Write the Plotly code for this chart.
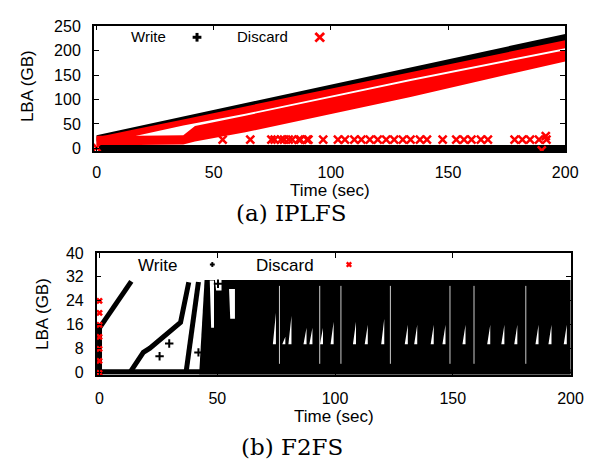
import plotly.graph_objects as go

# figure sits inside the page's default 8px body margin
W, H = 578, 454
OFF = 8

# ---------------- (a) IPLFS ----------------
a_x_ticks = [0, 50, 100, 150, 200]
a_y_ticks = [0, 50, 100, 150, 200, 250]

# Write: diagonal front band (time, upper LBA, lower LBA)
a_write_front_t = [0, 200]
a_write_front_hi = [27, 234]
a_write_front_lo = [14, 208]
# Write: band at LBA ~ 0
a_write_base_t = [1, 200]
a_write_base_hi = [7, 7]
a_write_base_lo = [-6, -6]

# Discard: upper band following the write front
a_disc_upper_t = [0, 18, 37, 63.5, 134, 200]
a_disc_upper_hi = [23, 41, 59, 86, 156, 221]
a_disc_upper_lo = [7, 27, 47, 71, 142, 205]
# Discard: lower band
a_disc_lower_t = [0, 18, 37, 42, 63.5, 134, 200]
a_disc_lower_hi = [26, 26, 27, 46, 67, 138, 201]
a_disc_lower_lo = [7, 7, 8, 14, 33, 105, 178]
# Discard: isolated points
a_disc_pts_t = [0, 53.8, 65.6, 74.6, 76, 78.7, 80, 82, 83.5, 86.3, 87, 89.8, 90.4,
                96.7, 103, 106, 110, 113, 116.6, 120, 123.6, 127, 130.7, 134, 138,
                141, 147.7, 153.5, 156.8, 160, 164, 167, 178.4, 181.7, 185, 188.8,
                192, 191.7, 190]
a_disc_pts_lba = [2, 18, 18, 18, 18, 18, 18, 18, 18, 18, 18, 18, 18,
                  18, 18, 18, 18, 18, 18, 18, 18, 18, 18, 18, 18,
                  18, 18, 18, 18, 18, 18, 18, 18, 18, 18, 18,
                  18, 25, -4]

# ---------------- (b) F2FS ----------------
b_x_ticks = [0, 50, 100, 150, 200]
b_y_ticks = [0, 8, 16, 24, 32, 40]

b_write_base_t = [0, 200.5]
b_write_base_hi = [1.2, 1.2]
b_write_base_lo = [-0.6, -0.6]
# Write: sequential runs (polylines, None separates runs)
b_write_runs_t = [0, 0, None,
                  0, 13.5, None,
                  13.1, 18.6, 21.4, 31.7, 34.4, 37.9, None,
                  36.8, 42]
b_write_runs_lba = [0, 16, None,
                    15, 30.5, None,
                    0.3, 6.8, 8.2, 14.6, 16.8, 30.2, None,
                    0.5, 30.3]
# Write: dense random-write mass
b_write_mass_t = [42.3, 44.6, 200.6, 200.6]
b_write_mass_lba = [-0.6, 31, 31, -0.6]
# Write: isolated points
b_write_pts_t = [25.5, 29.6, 42, 50.3]
b_write_pts_lba = [5.5, 9.8, 6.8, 29.7]
# Gaps in the dense mass (white notches / vertical streaks)
b_gap_notch_t = [74, 78, 80.6, 87, 89.5, 94, 98.5, 108, 113, 120, 130, 134,
                 141, 146, 154.5, 165, 171, 176.5, 185.5, 191, 197.5]
b_gap_notch_top = [20, 12, 19, 15, 15, 15, 17, 17, 16, 18, 16, 16,
                   16, 16, 16, 16, 16, 16, 16, 16, 16]
b_gap_line_t = [76.4, 93.5, 102.5, 123.5, 148.8, 159, 181]
b_gap_patch_t = [46.8, 48.6, 48.6, 47.4, None, 55, 57.5, 57.5, 55.5, None,
                 49, 51.8, 51.8, 49.5]
b_gap_patch_lba = [30.8, 30.8, 15, 15, None, 28, 28, 18, 18, None,
                   31, 31, 27.5, 27.5]
# Discard: points at time 0
b_disc_t = [0, 0, 0, 0, 0, 0, 0]
b_disc_lba = [0, 4, 8, 12, 16, 20, 24]

FONT = "Liberation Sans, Arial, sans-serif"


def band(t, hi, lo):
    return list(t) + list(t)[::-1], list(hi) + list(lo)[::-1]


fig = go.Figure()

# (a) write
for t, hi, lo in [(a_write_front_t, a_write_front_hi, a_write_front_lo),
                  (a_write_base_t, a_write_base_hi, a_write_base_lo)]:
    x, y = band(t, hi, lo)
    fig.add_trace(go.Scatter(x=x, y=y, fill="toself", fillcolor="black", mode="none",
                             xaxis="x", yaxis="y", hoverinfo="skip"))
# (a) discard
for t, hi, lo in [(a_disc_upper_t, a_disc_upper_hi, a_disc_upper_lo),
                  (a_disc_lower_t, a_disc_lower_hi, a_disc_lower_lo)]:
    x, y = band(t, hi, lo)
    fig.add_trace(go.Scatter(x=x, y=y, fill="toself", fillcolor="#ff0000", mode="none",
                             xaxis="x", yaxis="y", hoverinfo="skip"))
fig.add_trace(go.Scatter(x=a_disc_pts_t, y=a_disc_pts_lba, mode="markers",
                         marker=dict(symbol="x-thin", size=8,
                                     line=dict(width=2.5, color="#ff0000")),
                         xaxis="x", yaxis="y"))

# (b) write
x, y = band(b_write_base_t, b_write_base_hi, b_write_base_lo)
fig.add_trace(go.Scatter(x=x, y=y, fill="toself", fillcolor="black", mode="none",
                         xaxis="x2", yaxis="y2"))
fig.add_trace(go.Scatter(x=b_write_runs_t, y=b_write_runs_lba, mode="lines",
                         line=dict(color="black", width=5), xaxis="x2", yaxis="y2"))
fig.add_trace(go.Scatter(x=b_write_mass_t, y=b_write_mass_lba, fill="toself",
                         fillcolor="black", mode="none", xaxis="x2", yaxis="y2"))
# gaps in the mass
nx, ny = [], []
for t, top in zip(b_gap_notch_t, b_gap_notch_top):
    nx += [t + 0.9, t - 0.4, t + 0.9, None]
    ny += [top, 9.5, 9.5, None]
fig.add_trace(go.Scatter(x=nx, y=ny, fill="toself", fillcolor="white", mode="none",
                         xaxis="x2", yaxis="y2"))
fig.add_trace(go.Scatter(x=b_gap_patch_t, y=b_gap_patch_lba, fill="toself",
                         fillcolor="white", mode="none", xaxis="x2", yaxis="y2"))
lx, ly = [], []
for t in b_gap_line_t:
    lx += [t, t, None]
    ly += [3, 29, None]
fig.add_trace(go.Scatter(x=lx, y=ly, mode="lines", line=dict(color="white", width=0.8),
                         xaxis="x2", yaxis="y2"))
fig.add_trace(go.Scatter(x=b_write_pts_t, y=b_write_pts_lba, mode="markers",
                         marker=dict(symbol="cross-thin", size=6,
                                     line=dict(width=2, color="black")),
                         xaxis="x2", yaxis="y2"))
# (b) discard
fig.add_trace(go.Scatter(x=b_disc_t, y=b_disc_lba, mode="markers",
                         marker=dict(symbol="x-thin", size=5,
                                     line=dict(width=2.6, color="#ff0000")),
                         xaxis="x2", yaxis="y2", cliponaxis=False))


def px_x(p):
    return (p - OFF) / W


def px_y(p):
    return 1 - (p - OFF) / H


axis_common = dict(showline=True, linecolor="black", linewidth=1.5, mirror="ticks",
                   ticks="inside", ticklen=5, tickwidth=1, tickcolor="black",
                   showgrid=False, zeroline=False, ticklabeloverflow="allow",
                   tickfont=dict(family=FONT, size=16, color="black"))

fig.update_layout(
    width=W, height=H, margin=dict(l=0, r=0, t=0, b=0),
    paper_bgcolor="white", plot_bgcolor="white", showlegend=False,
    xaxis=dict(domain=[px_x(94), px_x(578)], range=[-1.2, 200], tickvals=a_x_ticks,
               anchor="y", ticklabelstandoff=6, **axis_common),
    yaxis=dict(domain=[px_y(148), px_y(18)], range=[-6, 251], tickvals=a_y_ticks,
               anchor="x", ticklabelstandoff=8, **axis_common),
    xaxis2=dict(domain=[px_x(97), px_x(583.5)], range=[-1.2, 200], tickvals=b_x_ticks,
                anchor="y2", ticklabelstandoff=8, **axis_common),
    yaxis2=dict(domain=[px_y(379), px_y(253)], range=[-0.65, 40], tickvals=b_y_ticks,
                anchor="x2", ticklabelstandoff=8, **axis_common),
)

ann = []


def text(xp, yp, s, size, family=FONT, angle=0, xanchor="center"):
    ann.append(dict(x=px_x(xp), y=px_y(yp), xref="paper", yref="paper", text=s,
                    showarrow=False, font=dict(family=family, size=size, color="black"),
                    textangle=angle, xanchor=xanchor, yanchor="middle"))


# axis titles
text(337, 188, "Time (sec)", 17)
text(341, 422, "Time (sec)", 17)
text(26, 81, "LBA (GB)", 17, angle=-90)
text(42, 316, "LBA (GB)", 17, angle=-90)
# legends
text(170, 29, "Write", 15, xanchor="right")
text(295, 29, "Discard", 15, xanchor="right")
text(182, 266, "Write", 17, xanchor="right")
text(322, 266, "Discard", 17, xanchor="right")
# captions
text(297, 212, "(a) IPLFS", 23, family="DejaVu Serif, serif")
text(297, 454, "(b) F2FS", 23, family="DejaVu Serif, serif")
fig.update_layout(annotations=ann)

# legend symbols drawn as shapes
shapes = []


def seg(x0, y0, x1, y1, color, width):
    shapes.append(dict(type="line", xref="paper", yref="paper",
                       x0=px_x(x0), y0=px_y(y0), x1=px_x(x1), y1=px_y(y1),
                       line=dict(color=color, width=width)))


def plus(cx, cy, r, w):
    seg(cx - r, cy, cx + r, cy, "black", w)
    seg(cx, cy - r, cx, cy + r, "black", w)


def cross(cx, cy, r, w, color="#ff0000"):
    seg(cx - r, cy - r, cx + r, cy + r, color, w)
    seg(cx - r, cy + r, cx + r, cy - r, color, w)


plus(200, 30, 4.5, 3)
cross(326, 30, 4.5, 2.8)
plus(215.7, 265, 2.5, 2)
cross(356, 265, 2.3, 2.4)
fig.update_layout(shapes=shapes)

fig.write_html("out.html", config={"displayModeBar": False})
